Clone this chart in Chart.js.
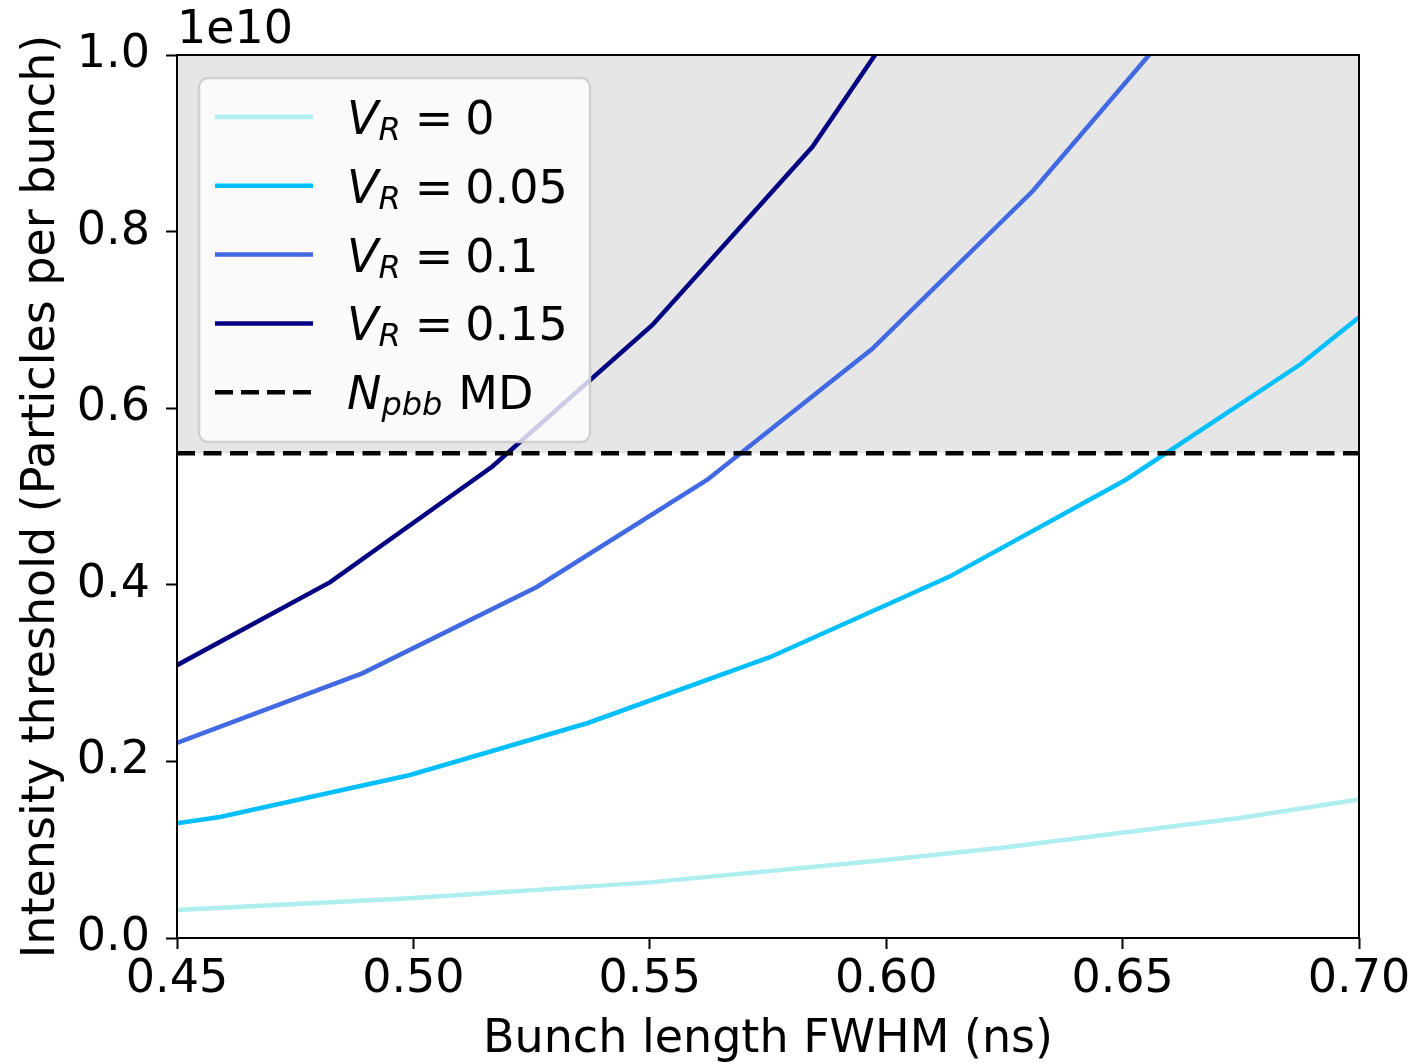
<!DOCTYPE html>
<html>
<head>
<meta charset="utf-8">
<script src="https://cdn.jsdelivr.net/npm/chart.js@4/dist/chart.umd.min.js"></script>
<style>
  html, body { margin: 0; padding: 0; background: #fff; }
  #wrap { width: 1419px; height: 1064px; }
</style>
</head>
<body>
<div id="wrap"><canvas id="chart" width="1419" height="1064"></canvas></div>
<script>
const FONT = "'DejaVu Sans', sans-serif";
const FS = 46;

// ---- data -----------------------------------------------------------------

const X_TICKS = [0.45, 0.50, 0.55, 0.60, 0.65, 0.70];
const Y_TICKS = [0, 0.2e10, 0.4e10, 0.6e10, 0.8e10, 1.0e10];

const NPBB_MD = 5.49e9;

const X_V0 = [0.45, 0.4993, 0.55, 0.5993, 0.624, 0.6748, 0.70];
const Y_V0 = [3.17e8, 4.5e8, 6.3e8, 8.8e8, 1.02e9, 1.36e9, 1.57e9];

const X_V005 = [0.45, 0.4591, 0.4993, 0.5369, 0.5754, 0.6133, 0.6507, 0.6877, 0.70];
const Y_V005 = [1.30e9, 1.37e9, 1.846e9, 2.435e9, 3.18e9, 4.09e9, 5.19e9, 6.50e9, 7.03e9];

const X_V01 = [0.45, 0.4893, 0.5261, 0.5621, 0.597, 0.631, 0.666];
const Y_V01 = [2.21e9, 3.00e9, 3.975e9, 5.187e9, 6.67e9, 8.46e9, 1.065e10];

const X_V015 = [0.45, 0.4824, 0.5167, 0.5505, 0.5844, 0.618];
const Y_V015 = [3.09e9, 4.03e9, 5.34e9, 6.94e9, 8.96e9, 1.16e10];

const SERIES = [
  { label: "0", xs: X_V0, ys: Y_V0, color: "#afeeee" },
  { label: "0.05", xs: X_V005, ys: Y_V005, color: "#00bfff" },
  { label: "0.1", xs: X_V01, ys: Y_V01, color: "#4169e1" },
  { label: "0.15", xs: X_V015, ys: Y_V015, color: "#000080" },
];

const pts = (xs, ys) => xs.map((x, i) => ({ x, y: ys[i] }));

// ---- legend drawn by hand so V_R / N_pbb get real subscripts -------------

function drawParts(ctx, x, base, parts) {
  for (const p of parts) {
    if (p.gap) { x += p.gap; continue; }
    const size = p.sub ? Math.round(FS * 0.7) : FS;
    ctx.font = `${p.it ? "italic " : ""}${size}px ${FONT}`;
    ctx.fillText(p.t, x, base + (p.sub ? 6 : 0));
    x += ctx.measureText(p.t).width;
  }
}

function drawLegend(ctx, a) {
  const bx = a.left + 22, by = a.top + 23, bw = 391, bh = 364;
  ctx.save();
  ctx.beginPath();
  ctx.roundRect(bx, by, bw, bh, 9);
  ctx.fillStyle = "rgba(255,255,255,0.8)";
  ctx.fill();
  ctx.strokeStyle = "rgba(204,204,204,0.9)";
  ctx.lineWidth = 2.5;
  ctx.stroke();

  const rows = SERIES.map((s) => ({
    color: s.color, dash: [],
    parts: [{ t: "V", it: true }, { t: "R", it: true, sub: true }, { gap: 14 }, { t: "=" }, { gap: 12 }, { t: s.label }],
  }));
  rows.push({
    color: "#000", dash: [18, 8],
    parts: [{ t: "N", it: true }, { t: "pbb", it: true, sub: true }, { gap: 16 }, { t: "MD" }],
  });

  rows.forEach((r, i) => {
    const y = a.top + 62 + i * 68.8;
    ctx.beginPath();
    ctx.setLineDash(r.dash);
    ctx.strokeStyle = r.color;
    ctx.lineWidth = 4.5;
    ctx.moveTo(a.left + 38, y);
    ctx.lineTo(a.left + 136, y);
    ctx.stroke();
    ctx.setLineDash([]);
    ctx.fillStyle = "#000";
    ctx.textAlign = "left";
    ctx.textBaseline = "alphabetic";
    drawParts(ctx, a.left + 170, y + 17, r.parts);
  });
  ctx.restore();
}

const overlay = {
  id: "overlay",
  afterDatasetsDraw(chart) {
    const { ctx, chartArea: a } = chart;
    ctx.save();
    drawLegend(ctx, a);
    ctx.strokeStyle = "#000";
    ctx.lineWidth = 2;
    ctx.strokeRect(a.left, a.top, a.right - a.left, a.bottom - a.top);
    ctx.fillStyle = "#000";
    ctx.font = `${FS}px ${FONT}`;
    ctx.textAlign = "left";
    ctx.textBaseline = "alphabetic";
    ctx.fillText("1e10", a.left, a.top - 12);
    ctx.restore();
  },
};

// ---- chart ------------------------------------------------------------------

const datasets = SERIES.map((s, i) => ({
  label: `V_R = ${s.label}`,
  data: pts(s.xs, s.ys),
  borderColor: s.color,
  borderWidth: 4.5,
  pointRadius: 0,
  tension: 0,
  fill: false,
  clip: 0,
  order: 2 + i,
}));

datasets.push({
  label: "N_pbb MD",
  data: pts([X_TICKS[0], X_TICKS[X_TICKS.length - 1]], [NPBB_MD, NPBB_MD]),
  borderColor: "#000",
  borderWidth: 4.5,
  borderDash: [18, 8.5],
  pointRadius: 0,
  fill: false,
  clip: 0,
  order: 0,
});

// grey band above the MD intensity
datasets.push({
  label: "shade",
  data: pts([X_TICKS[0], X_TICKS[X_TICKS.length - 1]], [Y_TICKS[Y_TICKS.length - 1], Y_TICKS[Y_TICKS.length - 1]]),
  borderWidth: 0,
  pointRadius: 0,
  backgroundColor: "#e6e6e6",
  fill: { value: NPBB_MD },
  clip: 0,
  order: 20,
});

Chart.defaults.font.family = FONT;
Chart.defaults.color = "#000";

new Chart(document.getElementById("chart"), {
  type: "line",
  data: { datasets },
  options: {
    responsive: false,
    animation: false,
    devicePixelRatio: 1,
    layout: { padding: { top: 55, right: 60, left: 0, bottom: 0 } },
    scales: {
      x: {
        type: "linear",
        min: X_TICKS[0],
        max: X_TICKS[X_TICKS.length - 1],
        afterFit: (s) => { s.height = 126; },
        afterBuildTicks: (s) => { s.ticks = X_TICKS.map((v) => ({ value: v })); },
        ticks: { callback: (v) => v.toFixed(2), font: { size: FS }, padding: 3, maxRotation: 0, autoSkip: false },
        grid: { drawOnChartArea: false, tickLength: 11, tickWidth: 2, tickColor: "#000" },
        border: { display: false },
        title: { display: true, text: "Bunch length FWHM (ns)", font: { size: FS }, padding: { top: 0, bottom: -4 } },
      },
      y: {
        type: "linear",
        min: Y_TICKS[0],
        max: Y_TICKS[Y_TICKS.length - 1],
        afterFit: (s) => { s.width = 177; },
        afterBuildTicks: (s) => { s.ticks = Y_TICKS.map((v) => ({ value: v })); },
        ticks: { callback: (v) => (v / 1e10).toFixed(1), font: { size: FS }, padding: 16, autoSkip: false },
        grid: { drawOnChartArea: false, tickLength: 11, tickWidth: 2, tickColor: "#000" },
        border: { display: false },
        title: { display: true, text: "Intensity threshold (Particles per bunch)", font: { size: FS }, padding: { top: 14, bottom: 0 } },
      },
    },
    plugins: {
      legend: { display: false },
      tooltip: { enabled: false },
    },
  },
  plugins: [overlay],
});
</script>
</body>
</html>
